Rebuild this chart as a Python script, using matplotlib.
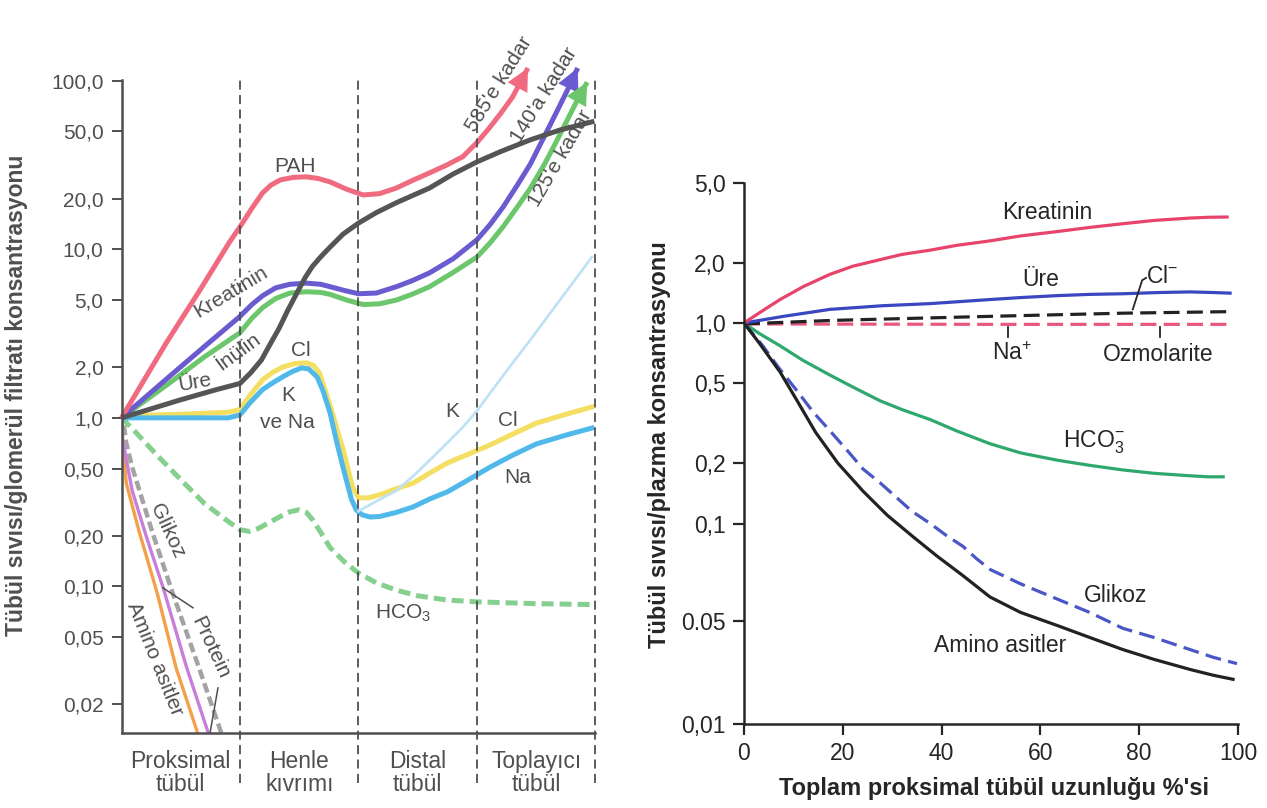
import matplotlib.pyplot as plt
import matplotlib.transforms as mtransforms
from matplotlib.ticker import NullLocator

plt.rcParams['font.family'] = ['Liberation Sans', 'DejaVu Sans']
plt.rcParams['mathtext.fontset'] = 'custom'
plt.rcParams['mathtext.rm'] = 'Liberation Sans'
plt.rcParams['mathtext.it'] = 'Liberation Sans:italic'
plt.rcParams['mathtext.bf'] = 'Liberation Sans:bold'

# ---------- sol grafik: tübül bölümleri boyunca ----------
segments = ['Proksimal\ntübül', 'Henle\nkıvrımı', 'Distal\ntübül', 'Toplayıcı\ntübül']
left_ticks = [100, 50, 20, 10, 5, 2, 1, 0.5, 0.2, 0.1, 0.05, 0.02]
left_ticklabels = ['100,0', '50,0', '20,0', '10,0', '5,0', '2,0', '1,0',
                   '0,50', '0,20', '0,10', '0,05', '0,02']

pah_x = [0, 0.38, 0.66, 0.91, 1.0, 1.1, 1.19, 1.26, 1.34, 1.45, 1.56, 1.66, 1.76, 1.9, 2.04,
         2.18, 2.32, 2.45, 2.60, 2.74, 2.88, 3.0, 3.1, 3.2, 3.3, 3.43]
pah_y = [1.0, 2.8, 5.7, 11.0, 13.6, 17.5, 21.6, 24.0, 25.8, 26.7, 26.9, 26.3, 25.1, 22.7, 21.0,
         21.4, 23.1, 25.5, 28.4, 31.5, 35.4, 43, 52, 64, 80, 119]

ure_x = [0, 0.5, 0.8, 1.0, 1.09, 1.18, 1.25, 1.33, 1.4, 1.48, 1.55, 1.61, 1.68, 1.76, 1.87,
         2.0, 2.15, 2.32, 2.6, 2.8, 3.0, 3.2, 3.45, 3.7, 3.97]
ure_y = [1.0, 1.28, 1.47, 1.6, 1.85, 2.2, 2.7, 3.4, 4.3, 5.5, 6.8, 7.9, 9.0, 10.3, 12.3,
         14.3, 16.5, 18.9, 23.1, 28, 33, 38, 44.6, 51, 57]

kre_x = [0, 0.4, 0.7, 1.0, 1.1, 1.19, 1.3, 1.42, 1.56, 1.68, 1.76, 1.88, 2.0, 2.15, 2.32,
         2.45, 2.6, 2.8, 3.0, 3.11, 3.22, 3.34, 3.45, 3.57, 3.68, 3.77, 3.85]
kre_y = [1.0, 1.75, 2.65, 4.0, 4.7, 5.3, 5.9, 6.2, 6.3, 6.2, 6.0, 5.7, 5.45, 5.5, 6.0,
         6.5, 7.25, 8.8, 11.4, 14.0, 17.8, 24, 32, 47, 67, 90, 119]

inu_x = [0, 0.4, 0.7, 1.0, 1.1, 1.19, 1.3, 1.42, 1.56, 1.68, 1.76, 1.9, 2.04, 2.18, 2.32,
         2.45, 2.6, 2.8, 3.0, 3.11, 3.22, 3.34, 3.45, 3.57, 3.68, 3.78, 3.86, 3.93]
inu_y = [1.0, 1.6, 2.3, 3.2, 3.9, 4.5, 5.1, 5.5, 5.6, 5.55, 5.4, 5.0, 4.7, 4.75, 5.0,
         5.4, 6.0, 7.3, 9.0, 10.9, 13.6, 17.8, 23, 32, 45, 62, 80, 98]

cl_x = [0, 0.5, 0.9, 1.0, 1.08, 1.19, 1.28, 1.36, 1.46, 1.56, 1.62, 1.67, 1.72, 1.78, 1.83,
        1.87, 1.91, 1.95, 2.0, 2.08, 2.18, 2.32, 2.46, 2.6, 2.75, 2.93, 3.11, 3.3, 3.5, 3.75, 3.97]
cl_y = [1.03, 1.05, 1.08, 1.12, 1.35, 1.68, 1.87, 2.0, 2.1, 2.12, 2.05, 1.85, 1.45, 1.07, 0.8,
        0.65, 0.5, 0.39, 0.335, 0.335, 0.35, 0.38, 0.41, 0.47, 0.54, 0.61, 0.69, 0.8, 0.93, 1.05, 1.16]

na_x = [0, 0.5, 0.9, 1.0, 1.08, 1.19, 1.28, 1.36, 1.44, 1.52, 1.58, 1.65, 1.7, 1.76, 1.81,
        1.86, 1.9, 1.94, 1.98, 2.03, 2.1, 2.18, 2.32, 2.46, 2.6, 2.75, 2.93, 3.11, 3.3, 3.5, 3.75, 3.97]
na_y = [1.0, 1.0, 1.0, 1.04, 1.22, 1.47, 1.62, 1.75, 1.88, 1.98, 1.95, 1.75, 1.45, 1.07, 0.75,
        0.54, 0.42, 0.33, 0.285, 0.266, 0.258, 0.26, 0.275, 0.296, 0.33, 0.364, 0.43, 0.51, 0.6, 0.70, 0.79, 0.87]

k_x = [2.0, 2.15, 2.32, 2.46, 2.6, 2.74, 2.88, 3.0, 3.11, 3.25, 3.45, 3.7, 3.97]
k_y = [0.28, 0.32, 0.37, 0.45, 0.56, 0.7, 0.88, 1.1, 1.4, 1.9, 2.9, 5.0, 9.0]

hco3_x = [0, 0.1, 0.3, 0.5, 0.7, 0.91, 1.0, 1.08, 1.15, 1.25, 1.34, 1.42, 1.5, 1.56, 1.61,
          1.68, 1.76, 1.88, 2.0, 2.15, 2.32, 2.5, 2.75, 3.0, 3.5, 4.0]
hco3_y = [1.0, 0.85, 0.6, 0.43, 0.31, 0.24, 0.217, 0.212, 0.22, 0.24, 0.26, 0.277, 0.285, 0.275, 0.25,
          0.21, 0.17, 0.14, 0.12, 0.105, 0.095, 0.088, 0.083, 0.081, 0.079, 0.078]

amino_x = [0, 0.01, 0.04, 0.15, 0.30, 0.46, 0.65]
amino_y = [1.0, 0.71, 0.41, 0.21, 0.092, 0.033, 0.013]

prot_x = [0, 0.01, 0.09, 0.21, 0.35, 0.55, 0.74]
prot_y = [1.0, 0.74, 0.37, 0.197, 0.099, 0.033, 0.013]

gli_x = [0.02, 0.04, 0.09, 0.26, 0.43, 0.66, 0.85]
gli_y = [0.9, 0.71, 0.51, 0.21, 0.092, 0.032, 0.013]

# ---------- sağ grafik: proksimal tübül boyunca ----------
right_ticks = [5, 2, 1, 0.5, 0.2, 0.1, 0.0327, 0.01]   # 0.05 etiketi orijinaldeki yerinde
right_ticklabels = ['5,0', '2,0', '1,0', '0,5', '0,2', '0,1', '0.05', '0,01']

rkre_x = [0, 3, 7.3, 12, 17.4, 22, 27.5, 32, 37.7, 43, 49.8, 56, 63.4, 70, 76.7, 83, 90.3, 94, 97.8]
rkre_y = [1.0, 1.12, 1.31, 1.52, 1.75, 1.92, 2.07, 2.2, 2.31, 2.44, 2.57, 2.72, 2.86, 3.0, 3.13,
          3.25, 3.34, 3.37, 3.38]

rure_x = [0, 8, 17.4, 28, 37.7, 49.8, 56, 63.4, 70, 76.7, 84, 90.3, 95, 98.4]
rure_y = [1.0, 1.08, 1.17, 1.22, 1.25, 1.31, 1.34, 1.37, 1.39, 1.40, 1.42, 1.43, 1.42, 1.41]

rcl_x = [0, 17.4, 49.8, 76.7, 98.4]
rcl_y = [0.99, 1.03, 1.08, 1.12, 1.14]

rosm_x = [0, 49.8, 98.4]
rosm_y = [0.99, 0.985, 0.985]

rhco3_x = [0, 3, 7.3, 12, 17.4, 22, 27.5, 32, 37.7, 43, 49.8, 56, 63.4, 70, 76.7, 83, 90.3, 94, 97]
rhco3_y = [1.0, 0.89, 0.77, 0.65, 0.55, 0.48, 0.41, 0.37, 0.33, 0.29, 0.25, 0.225, 0.207, 0.195,
           0.185, 0.178, 0.173, 0.171, 0.171]

ramino_x = [0, 3, 7.3, 10.5, 14.5, 19, 24.1, 29, 34.2, 39, 44.3, 49.8, 56, 63.4, 70, 76.7, 83,
            90.3, 95, 99]
ramino_y = [1.0, 0.8, 0.57, 0.42, 0.285, 0.2, 0.145, 0.11, 0.086, 0.069, 0.055, 0.043, 0.036,
            0.031, 0.027, 0.0235, 0.021, 0.0187, 0.0175, 0.0167]

rgli_x = [0, 3.8, 7, 10.7, 14, 17.4, 21, 24.1, 27.5, 31, 34, 37.7, 41, 44.3, 47, 49.8, 56, 63.4,
          70, 76.7, 83, 90.3, 95, 99.8]
rgli_y = [1.0, 0.77, 0.6, 0.46, 0.36, 0.29, 0.23, 0.187, 0.16, 0.134, 0.115, 0.10, 0.087, 0.077,
          0.067, 0.059, 0.05, 0.042, 0.036, 0.030, 0.027, 0.0235, 0.0215, 0.020]

gray = '#4f4f4f'
dark = '#262626'

fig = plt.figure(figsize=(12.67, 8.08), dpi=100)

# ================= sol =================
ax1 = fig.add_axes([0.0959, 0.0928, 0.3741, 0.8082])
ax1.set_yscale('log')
ax1.set_xlim(0, 4)
ax1.set_ylim(0.0135, 101)

lw = 3.6
rj = dict(solid_joinstyle='round', dash_joinstyle='round')
ax1.plot(gli_x, gli_y, color='#a3a3a3', lw=3.2, dashes=(2.2, 1.0), **rj)
ax1.plot(amino_x, amino_y, color='#f2a04a', lw=2.4, **rj)
ax1.plot(prot_x, prot_y, color='#c77fd9', lw=2.4, **rj)
ax1.plot(hco3_x, hco3_y, color='#86d08f', lw=lw, dashes=(2.4, 1.2), **rj)
ax1.plot(cl_x, cl_y, color='#f5df62', lw=lw, **rj)
ax1.plot(na_x, na_y, color='#50b9ea', lw=lw, **rj)
ax1.plot(k_x, k_y, color='#bfe3f4', lw=2.0, **rj)
ax1.plot(inu_x, inu_y, color='#6cc66c', lw=lw, solid_capstyle='butt', clip_on=False, **rj)
ax1.plot(kre_x, kre_y, color='#6a5bd0', lw=lw, solid_capstyle='butt', clip_on=False, **rj)
ax1.plot(pah_x, pah_y, color='#f06a80', lw=lw, solid_capstyle='butt', clip_on=False, **rj)
ax1.plot(ure_x, ure_y, color='#555555', lw=lw, **rj)

for xs, ys, c in [(pah_x, pah_y, '#f06a80'), (kre_x, kre_y, '#6a5bd0'), (inu_x, inu_y, '#6cc66c')]:
    ax1.annotate('', xy=(xs[-1], ys[-1]), xytext=(xs[-2], ys[-2]), annotation_clip=False,
                 arrowprops=dict(arrowstyle='-|>,head_length=0.8,head_width=0.4',
                                 color=c, lw=0, mutation_scale=20, shrinkA=0, shrinkB=0))

for xv in [1, 2, 3, 4]:
    ax1.axvline(xv, ymin=-0.077, ymax=1.0, clip_on=False, color=gray, lw=1.3, dashes=(5, 3))

ax1.spines['top'].set_visible(False)
ax1.spines['right'].set_visible(False)
for s in ['left', 'bottom']:
    ax1.spines[s].set_color(gray)
    ax1.spines[s].set_linewidth(1.8)
ax1.set_xticks([])
ax1.set_yticks(left_ticks)
ax1.set_yticklabels(left_ticklabels)
ax1.yaxis.set_minor_locator(NullLocator())
ax1.tick_params(axis='y', direction='out', length=7, width=1.4, color=gray,
                labelcolor=gray, labelsize=15, pad=6)

trans = mtransforms.blended_transform_factory(ax1.transData, ax1.transAxes)
for i, name in enumerate(segments):
    ax1.text(i + 0.5, -0.026, name, transform=trans, ha='center', va='top',
             fontsize=16.5, color=gray, linespacing=1.0)

tk = dict(color=gray, fontsize=15, ha='center', va='center')
ax1.text(1.464, 30.8, 'PAH', **tk)
ax1.text(0.924, 5.59, 'Kreatinin', rotation=31, **tk)
ax1.text(0.983, 2.45, 'İnülin', rotation=36, **tk)
ax1.text(0.62, 1.61, 'Üre', rotation=10, **tk)
ax1.text(1.515, 2.50, 'Cl', **tk)
ax1.text(1.405, 1.35, 'K', **tk)
ax1.text(1.397, 0.934, 've Na', **tk)
ax1.text(2.789, 1.085, 'K', **tk)
ax1.text(3.262, 0.96, 'Cl', **tk)
ax1.text(3.346, 0.441, 'Na', **tk)
ax1.text(2.376, 0.0688, 'HCO$_3$', **tk)
ax1.text(0.384, 0.214, 'Glikoz', rotation=-65, **tk)
ax1.text(0.747, 0.0432, 'Protein', rotation=-65, **tk)
ax1.text(0.283, 0.0372, 'Amino asitler', rotation=-68, **tk)
ax1.text(3.19, 95, "585'e kadar", rotation=58, **tk)
ax1.text(3.57, 82, "140'a kadar", rotation=58, **tk)
ax1.text(3.70, 34.8, "125'e kadar", rotation=60, **tk)
ax1.plot([0.35, 0.603], [0.098, 0.0747], color=gray, lw=1.1)
ax1.plot([0.814, 0.747], [0.025, 0.0135], color=gray, lw=1.1, clip_on=False)

fig.text(17 / 1267, 1 - 395 / 808, 'Tübül sıvısı/glomerül filtratı konsantrasyonu',
         rotation=90, ha='center', va='center', fontsize=16.5, fontweight='bold', color=gray)

# ================= sağ =================
ax2 = fig.add_axes([0.5872, 0.1040, 0.3899, 0.6696])
ax2.set_yscale('log')
ax2.set_xlim(0, 100)
ax2.set_ylim(0.01, 5.0)

rl = 2.3
ax2.plot(rhco3_x, rhco3_y, color='#2fa86e', lw=rl, **rj)
ax2.plot(rosm_x, rosm_y, color='#e8577d', lw=rl, dashes=(5, 2.3))
ax2.plot(rcl_x, rcl_y, color='#222222', lw=rl, dashes=(5, 2.3))
ax2.plot(rure_x, rure_y, color='#3b47c0', lw=rl, **rj)
ax2.plot(rkre_x, rkre_y, color='#e8436a', lw=rl, **rj)
ax2.plot(rgli_x, rgli_y, color='#4b56c6', lw=rl, dashes=(5, 2.3), **rj)
ax2.plot(ramino_x, ramino_y, color='#222222', lw=rl, **rj)

ax2.spines['top'].set_visible(False)
ax2.spines['right'].set_visible(False)
for s in ['left', 'bottom']:
    ax2.spines[s].set_color(dark)
    ax2.spines[s].set_linewidth(1.8)
ax2.set_yticks(right_ticks)
ax2.set_yticklabels(right_ticklabels)
ax2.yaxis.set_minor_locator(NullLocator())
ax2.set_xticks([0, 20, 40, 60, 80, 100])
ax2.tick_params(direction='out', length=8, width=1.6, color=dark,
                labelcolor=dark, labelsize=16.5, pad=5)

rk = dict(color=dark, fontsize=16.5, ha='center', va='center')
ax2.text(61.3, 3.54, 'Kreatinin', **rk)
ax2.text(60.1, 1.65, 'Üre', **rk)
ax2.text(84.6, 1.71, 'Cl$^{-}$', **rk)
ax2.text(54.3, 0.707, 'Na$^{+}$', **rk)
ax2.text(83.8, 0.699, 'Ozmolarite', **rk)
ax2.text(70.9, 0.253, 'HCO$_3^{-}$', **rk)
ax2.text(75.3, 0.0437, 'Glikoz', **rk)
ax2.text(51.8, 0.0245, 'Amino asitler', **rk)
ax2.plot([53.4, 53.4], [0.96, 0.85], color=dark, lw=1.3)
ax2.plot([84.2, 84.2], [0.96, 0.85], color=dark, lw=1.3)
ax2.plot([78.7, 80.6, 81.4], [1.17, 1.635, 1.68], color=dark, lw=1.3)

fig.text(660 / 1267, 1 - 445 / 808, 'Tübül sıvısı/plazma konsantrasyonu',
         rotation=90, ha='center', va='center', fontsize=17, fontweight='bold', color=dark)
fig.text(994 / 1267, 1 - 789 / 808, "Toplam proksimal tübül uzunluğu %'si",
         ha='center', va='center', fontsize=17, fontweight='bold', color=dark)

fig.savefig('out.png', dpi=100, facecolor='white')
